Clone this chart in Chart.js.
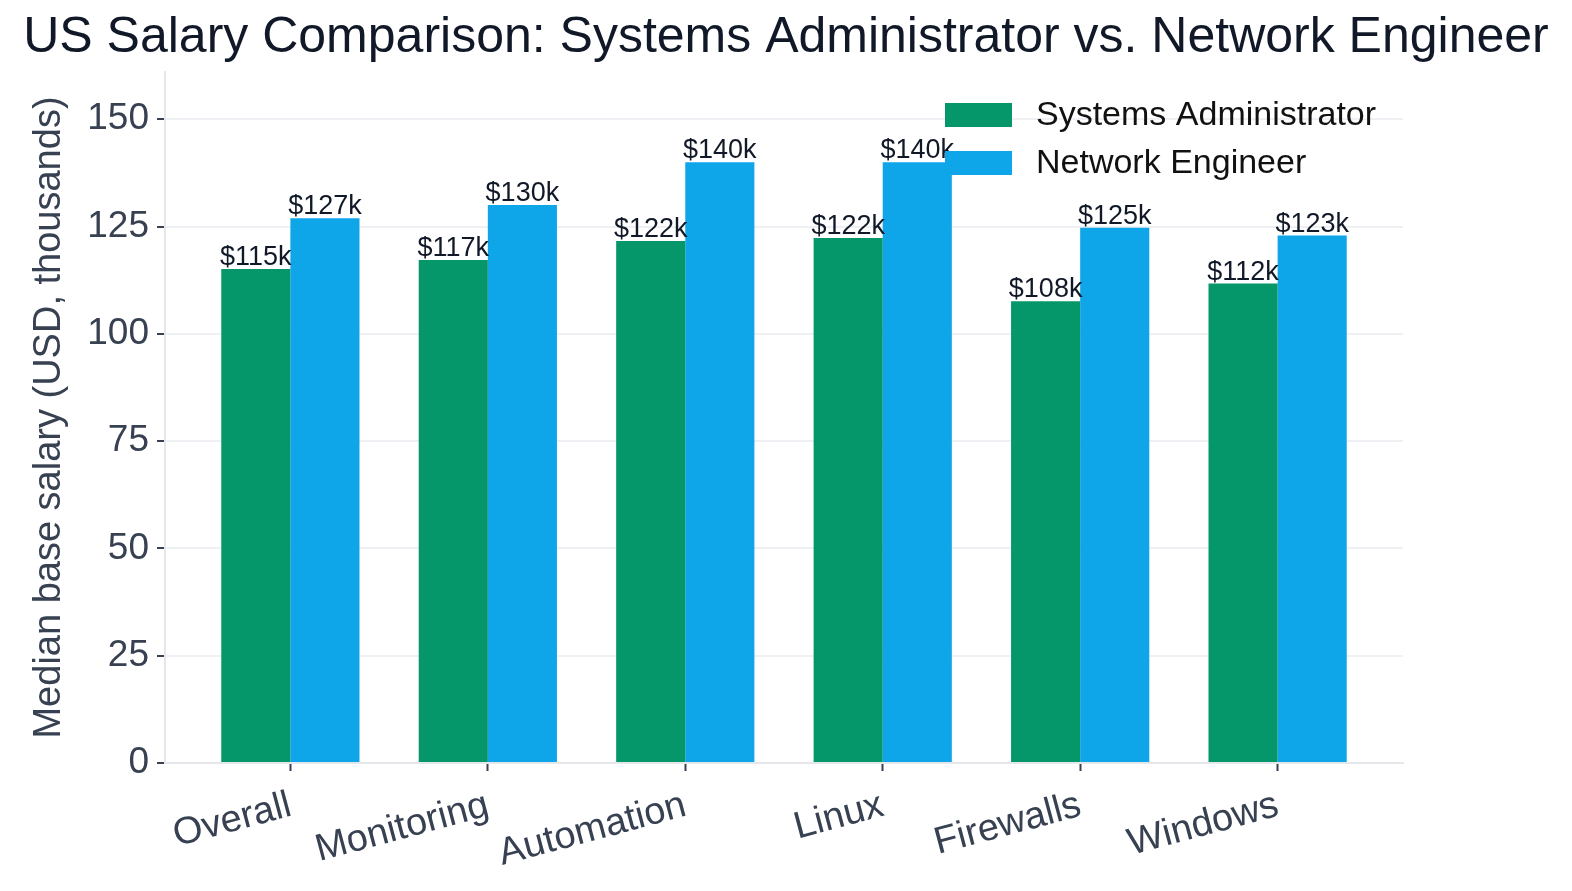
<!DOCTYPE html>
<html>
<head>
<meta charset="utf-8">
<script src="https://cdn.jsdelivr.net/npm/chart.js@4.4.0/dist/chart.umd.min.js"></script>
<style>
  html, body { margin: 0; padding: 0; background: #ffffff; }
  #wrap { width: 1572px; height: 891px; }
</style>
</head>
<body>
<div id="wrap"><canvas id="salary-chart" width="1572" height="891"></canvas></div>
<script>
const salaryChart = document.querySelector("#salary-chart");

const categories = ["Overall", "Monitoring", "Automation", "Linux", "Firewalls", "Windows"];
const sysAdmin = [115.1, 117.2, 121.6, 122.3, 107.6, 111.7];
const netEngineer = [126.9, 130.0, 140.0, 140.0, 124.7, 122.9];
const yTicks = [0, 25, 50, 75, 100, 125, 150];

const seriesNames = ["Systems Administrator", "Network Engineer"];
const colors = ["#059669", "#0ea5e9"];

const FONT = "'Liberation Sans', Arial, Helvetica, sans-serif";

// value labels on top of each bar
const barLabels = {
  id: "barLabels",
  afterDatasetsDraw(chart) {
    const ctx = chart.ctx;
    ctx.save();
    ctx.font = `27px ${FONT}`;
    ctx.fillStyle = "#111827";
    ctx.textAlign = "center";
    ctx.textBaseline = "alphabetic";
    chart.data.datasets.forEach((ds, i) => {
      const meta = chart.getDatasetMeta(i);
      meta.data.forEach((bar, j) => {
        ctx.fillText(`$${Math.round(ds.data[j].y)}k`, bar.x, bar.y - 4);
      });
    });
    ctx.restore();
  },
};

// legend drawn on top of the plot, top right, no frame
const legendBox = {
  id: "legendBox",
  afterDraw(chart) {
    const ctx = chart.ctx;
    const area = chart.chartArea;
    const boxX = area.right - 458;
    let y = area.top + 31;
    ctx.save();
    ctx.font = `34px ${FONT}`;
    ctx.textBaseline = "middle";
    ctx.textAlign = "left";
    chart.data.datasets.forEach((ds) => {
      ctx.fillStyle = ds.backgroundColor;
      ctx.fillRect(boxX, y, 67, 24);
      ctx.fillStyle = "#111111";
      ctx.fillText(ds.label, boxX + 91, y + 13);
      y += 48;
    });
    ctx.restore();
  },
};

const chartData = {
  datasets: [
    {
      label: seriesNames[0],
      data: categories.map((c, i) => ({ x: i, y: sysAdmin[i] })),
      backgroundColor: colors[0],
      borderWidth: 0,
      categoryPercentage: 0.7,
      barPercentage: 1.0,
    },
    {
      label: seriesNames[1],
      data: categories.map((c, i) => ({ x: i, y: netEngineer[i] })),
      backgroundColor: colors[1],
      borderWidth: 0,
      categoryPercentage: 0.7,
      barPercentage: 1.0,
    },
  ],
};

new Chart(salaryChart, {
  type: "bar",
  data: chartData,
  plugins: [barLabels, legendBox],
  options: {
    responsive: false,
    animation: false,
    layout: { padding: 0 },
    plugins: {
      legend: { display: false },
      tooltip: { enabled: false },
      title: {
        display: true,
        text: "US Salary Comparison: Systems Administrator vs. Network Engineer",
        color: "#111827",
        font: { family: FONT, size: 50, weight: "normal", lineHeight: 1.2 },
        padding: { top: 8, bottom: 4 },
      },
    },
    scales: {
      x: {
        type: "linear",
        min: -0.635,
        max: 5.635,
        offset: false,
        afterBuildTicks(scale) {
          scale.ticks = categories.map((c, i) => ({ value: i }));
        },
        afterFit(scale) {
          scale.height = 128;
        },
        ticks: {
          autoSkip: false,
          minRotation: 15,
          maxRotation: 15,
          padding: 12,
          color: "#374151",
          font: { family: FONT, size: 38 },
          callback: (v) => categories[v],
        },
        grid: {
          offset: false,
          drawOnChartArea: false,
          drawTicks: true,
          tickLength: 8,
          tickColor: "#374151",
          tickWidth: 2,
        },
        border: { color: "#e5e7eb", width: 2 },
      },
      y: {
        min: 0,
        max: 161,
        afterBuildTicks(scale) {
          scale.ticks = yTicks.map((v) => ({ value: v }));
        },
        afterFit(scale) {
          scale.width = 165;
        },
        ticks: {
          color: "#374151",
          font: { family: FONT, size: 37 },
          padding: 8,
        },
        grid: {
          color: "#eef0f3",
          lineWidth: 2,
          tickLength: 8,
          tickColor: "#374151",
          tickWidth: 2,
        },
        border: { color: "#e5e7eb", width: 2 },
        title: {
          display: true,
          text: "Median base salary (USD, thousands)",
          color: "#374151",
          font: { family: FONT, size: 38 },
          padding: { top: 27, bottom: 0 },
        },
      },
      // empty right-hand axis, only reserves the white margin right of the plot
      yRight: {
        position: "right",
        min: 0,
        max: 161,
        afterFit(scale) {
          scale.width = 169;
        },
        ticks: { display: false },
        grid: { display: false },
        border: { display: false },
      },
    },
  },
});
</script>
</body>
</html>
